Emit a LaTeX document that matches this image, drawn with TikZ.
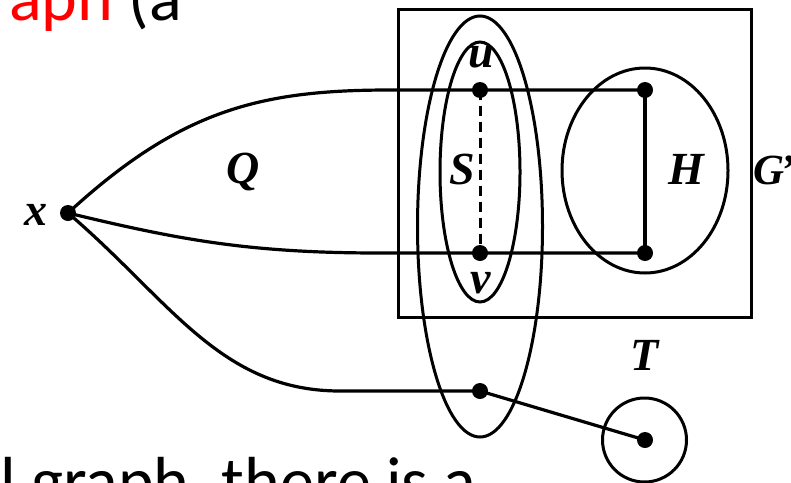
\documentclass[tikz,border=0pt]{standalone}
\usepackage{fontspec}
\setmainfont{Liberation Serif}
\newfontfamily\slidefont{Carlito}
\begin{document}
\begin{tikzpicture}[x=1pt,y=-1pt,
  edge/.style={line width=3.2pt},
  ring/.style={draw,line width=3pt},
  dot/.style={circle,fill=black,inner sep=0pt,minimum size=16pt},
  lab/.style={font=\fontsize{46}{46}\selectfont\bfseries\itshape,inner sep=0pt},
  slide/.style={font=\fontsize{68}{80}\selectfont\slidefont,inner sep=0pt,anchor=base west}]
\useasboundingbox (0,0) rectangle (791,482);
% frame G'
\draw[ring] (398,9) rectangle (751,317);
% sets
\draw[ring] (480,226.5) ellipse [x radius=62.5, y radius=210.5];
\draw[ring] (480,172) ellipse [x radius=40, y radius=130];
\draw[ring] (645,170.5) ellipse [x radius=83, y radius=102.5];
\draw[ring] (644.5,440) circle [radius=42];
% vertices
\node[dot] (x) at (68,213) {};
\node[dot] (u) at (480,90) {};
\node[dot] (v) at (480,253) {};
\node[dot] (h1) at (645,90) {};
\node[dot] (h2) at (645,253) {};
\node[dot] (w) at (480,391) {};
\node[dot] (t) at (645,440) {};
\coordinate (qa) at (390,90);
\coordinate (qb) at (380,253);
\coordinate (qc) at (340,391);
% edges
\draw[edge] (x.center) .. controls (180,110) and (260,90) .. (qa) -- (u.center) -- (h1.center);
\draw[edge] (x.center) .. controls (180,240) and (250,253) .. (qb) -- (v.center) -- (h2.center);
\draw[edge] (x.center) .. controls (170,300) and (220,391) .. (qc) -- (w.center) -- (t.center);
\draw[edge] (h1.center) -- (h2.center);
\draw[line width=3pt,dash pattern=on 10pt off 6pt] (u.center) -- (v.center);
% labels
\node[lab] (lx) at (36,215) {x};
\node[lab] (lq) at (243,172) {Q};
\node[lab] (ls) at (462,169) {S};
\node[lab] (lh) at (686,169) {H};
\node[lab,anchor=west,font=\fontsize{43}{43}\selectfont\bfseries\itshape] (lg) at (753,170) {G\kern-4pt'};
\node[lab] (lu) at (481,57) {u};
\node[lab] (lv) at (481,283) {v};
\node[lab] (lt) at (645,355) {T};
% slide text fragments
\node[slide] (top) at (9,20) {\textcolor{red}{aph} (a};
\node[slide] (bot) at (0,504) {l graph, there is a};
\end{tikzpicture}
\end{document}
